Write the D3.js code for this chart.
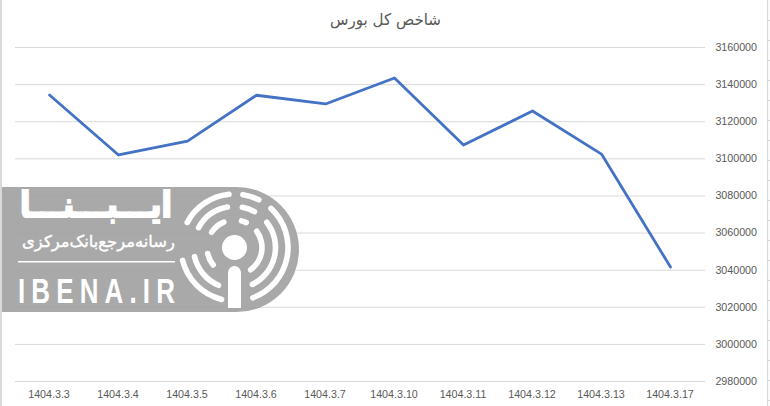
<!DOCTYPE html>
<html><head><meta charset="utf-8">
<script src="https://cdn.jsdelivr.net/npm/d3@7"></script>
<style>
html,body{margin:0;padding:0;background:#fff;overflow:hidden}
svg{display:block}
text{font-family:"Liberation Sans",Arial,sans-serif}
</style></head><body>
<svg id="c" width="770" height="406"></svg>
<script>
const chartTitle = "شاخص کل بورس";
const categories = ["1404.3.3","1404.3.4","1404.3.5","1404.3.6","1404.3.7","1404.3.10","1404.3.11","1404.3.12","1404.3.13","1404.3.17"];
const indexValues = [3134100,3101800,3109300,3134000,3129300,3143300,3107200,3125500,3102300,3041400];
const yTicks = [2980000,3000000,3020000,3040000,3060000,3080000,3100000,3120000,3140000,3160000];
const logoName = "ایـــبـــنـــا";
const logoTagline = "رسانه‌مرجع‌بانک‌مرکزی";
const logoLatin = "IBENA.IR";
const ringSegments = [
  {r:53.5,a:-65,b:-3},{r:53.5,a:6,b:30},{r:53.5,a:40,b:163},{r:53.5,a:191,b:259},
  {r:41,a:-65,b:-6},{r:41,a:7,b:33},{r:41,a:48,b:158},{r:41,a:199,b:261},
  {r:27.5,a:-62,b:-17},{r:27.5,a:9,b:31},{r:27.5,a:48,b:150},{r:27.5,a:225,b:263}
];

const svg = d3.select("#c");
const x = d3.scaleBand().domain(categories).range([15,705]);
const y = d3.scaleLinear().domain([2980000,3160000]).range([381,47]);
const cx = c => x(c)+x.bandwidth()/2;

// window frame
svg.append("rect").attr("x",0).attr("y",0).attr("width",2).attr("height",406).attr("fill","#d9d9d9");
svg.append("rect").attr("x",767).attr("y",0).attr("width",1.2).attr("height",406).attr("fill","#d9d9d9");
svg.append("g").selectAll("line").data(d3.range(20,406,20)).join("line")
  .attr("x1",768).attr("x2",770).attr("y1",d=>d+.5).attr("y2",d=>d+.5).attr("stroke","#d9d9d9");

// grid
const grid = svg.append("g").attr("transform","translate(15,0)")
  .call(d3.axisRight(y).tickValues(yTicks).tickSize(690).tickFormat(""));
grid.select(".domain").remove();
grid.selectAll("line").attr("stroke","#d9d9d9").attr("stroke-width",1);

// axes labels
const yAxis = svg.append("g").attr("transform","translate(757,0)")
  .call(d3.axisLeft(y).tickValues(yTicks).tickSize(0).tickPadding(0).tickFormat(d3.format("d")));
yAxis.select(".domain").remove();
yAxis.selectAll("text").attr("font-size",10.7).attr("fill","#595959").style("font-family",'"Liberation Sans"');

const xAxis = svg.append("g").attr("transform","translate(-0.5,390)")
  .call(d3.axisBottom(x).tickSize(0).tickPadding(0));
xAxis.select(".domain").remove();
xAxis.selectAll("text").attr("font-size",10.7).attr("fill","#595959").style("font-family",'"Liberation Sans"');

// line
svg.append("path").datum(categories.map((c,i)=>[cx(c),y(indexValues[i])]))
  .attr("d",d3.line()).attr("fill","none").attr("stroke","#4472c4")
  .attr("stroke-width",2.8).attr("stroke-linecap","round").attr("stroke-linejoin","round");

// title
svg.append("text").attr("x",385.5).attr("y",25).attr("text-anchor","middle")
  .attr("direction","rtl").attr("font-size",16).attr("fill","#595959")
  .style("font-family",'"DejaVu Sans"').attr("textLength",111).attr("lengthAdjust","spacingAndGlyphs")
  .text(chartTitle);

// logo
const logo = svg.append("g");
const lcx = 236.5, lcy = 249.5, lr = 62.5;
logo.append("path")
  .attr("d",`M2,${lcy-lr}H${lcx}A${lr},${lr} 0 0 1 ${lcx},${lcy+lr}H2Z`)
  .attr("fill","#a0a0a0").attr("fill-opacity",.9);
const white = logo.append("g").attr("fill","#fff");
const rx = 234.5, ry = 247.5;
const arc = d3.arc().cornerRadius(2.8);
white.selectAll("path.ring").data(ringSegments).join("path").attr("class","ring")
  .attr("transform",`translate(${rx},${ry})`)
  .attr("d",d=>arc({innerRadius:d.r-2.8,outerRadius:d.r+2.8,startAngle:d.a*Math.PI/180,endAngle:d.b*Math.PI/180}));
white.append("circle").attr("cx",rx).attr("cy",ry).attr("r",12.5);
white.append("rect").attr("x",rx-6.5).attr("y",266).attr("width",13).attr("height",42).attr("rx",6.5);
white.append("rect").attr("x",rx-6.5).attr("y",285).attr("width",13).attr("height",23);
white.append("rect").attr("x",18).attr("y",261).attr("width",157).attr("height",1.5);
white.append("text").attr("x",20).attr("y",217).attr("direction","ltr")
  .attr("font-size",36).attr("font-weight","bold").style("font-family",'"DejaVu Sans"')
  .attr("stroke","#fff").attr("stroke-width",2.2)
  .attr("textLength",152).attr("lengthAdjust","spacingAndGlyphs").style("unicode-bidi","plaintext").text(logoName);
white.append("text").attr("x",22).attr("y",247).attr("direction","ltr")
  .attr("font-size",16).style("font-family",'"DejaVu Sans"')
  .attr("stroke","#fff").attr("stroke-width",.4)
  .attr("textLength",153).attr("lengthAdjust","spacingAndGlyphs").style("unicode-bidi","plaintext").text(logoTagline);
white.append("text").attr("transform","translate(18,303) scale(.72,1)")
  .attr("font-size",36).attr("font-weight","bold").style("font-family",'"Liberation Sans"')
  .attr("textLength",218).attr("lengthAdjust","spacing").text(logoLatin);
</script>
</body></html>
